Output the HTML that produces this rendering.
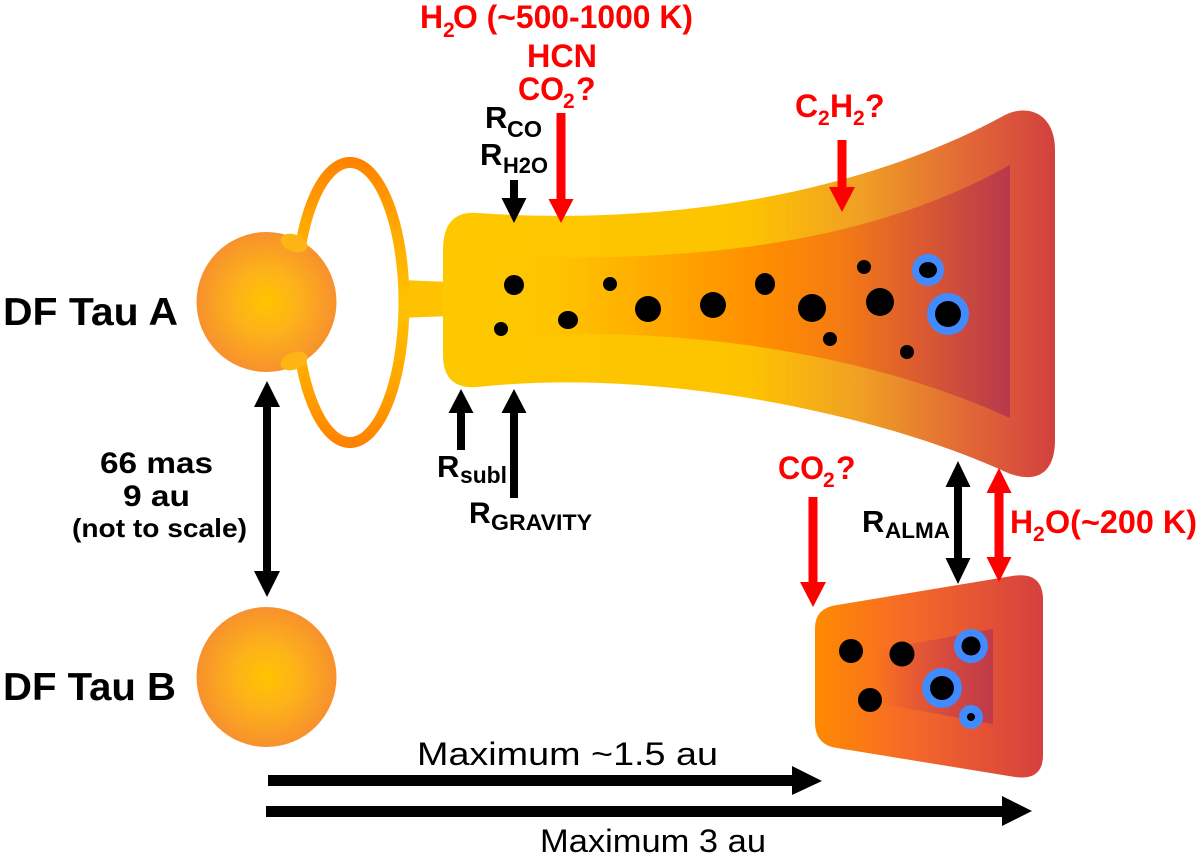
<!DOCTYPE html>
<html><head><meta charset="utf-8"><style>
html,body{margin:0;padding:0;background:#fff;}
svg{display:block;}
text{font-family:"Liberation Sans",Arial,sans-serif;}
.b{font-weight:bold;}
.r{fill:#ff0000;}
</style></head><body>
<svg width="1200" height="858" viewBox="0 0 1200 858" xmlns="http://www.w3.org/2000/svg">
<defs>
<radialGradient id="star" cx="0.5" cy="0.5" r="0.5">
<stop offset="0" stop-color="#FFC400"/>
<stop offset="0.45" stop-color="#FDB21A"/>
<stop offset="1" stop-color="#F7912D"/>
</radialGradient>
<linearGradient id="ring" gradientUnits="userSpaceOnUse" x1="0" y1="157" x2="0" y2="448">
<stop offset="0" stop-color="#FF8000"/>
<stop offset="0.25" stop-color="#FFAA00"/>
<stop offset="0.5" stop-color="#FFC200"/>
<stop offset="0.75" stop-color="#FFAA00"/>
<stop offset="1" stop-color="#FF8000"/>
</linearGradient>
<linearGradient id="outer" gradientUnits="userSpaceOnUse" x1="443" y1="0" x2="1055" y2="0">
<stop offset="0" stop-color="#FDC800"/>
<stop offset="0.5" stop-color="#FDC300"/>
<stop offset="0.68" stop-color="#F0A024"/>
<stop offset="0.85" stop-color="#E26A36"/>
<stop offset="1" stop-color="#D3403F"/>
</linearGradient>
<linearGradient id="inner" gradientUnits="userSpaceOnUse" x1="490" y1="0" x2="1010" y2="0">
<stop offset="0" stop-color="#FDC800"/>
<stop offset="0.13" stop-color="#FFC300"/>
<stop offset="0.33" stop-color="#FFA800"/>
<stop offset="0.52" stop-color="#FF8E00"/>
<stop offset="0.67" stop-color="#F57C12"/>
<stop offset="0.83" stop-color="#DA5A32"/>
<stop offset="1" stop-color="#B8384C"/>
</linearGradient>
<linearGradient id="small" gradientUnits="userSpaceOnUse" x1="815" y1="0" x2="1043" y2="0">
<stop offset="0" stop-color="#FF8A00"/>
<stop offset="0.4" stop-color="#F66A28"/>
<stop offset="1" stop-color="#D5403F"/>
</linearGradient>
<linearGradient id="smallin" gradientUnits="userSpaceOnUse" x1="877" y1="0" x2="993" y2="0">
<stop offset="0" stop-color="#C8384C" stop-opacity="0"/>
<stop offset="1" stop-color="#B8384C" stop-opacity="0.85"/>
</linearGradient>
</defs>

<rect width="1200" height="858" fill="#fff"/>

<!-- connector bar -->
<polygon points="400,280 450,282 450,316 400,318" fill="#FFC200"/>
<!-- ring -->
<ellipse cx="350" cy="302.5" rx="54" ry="140" fill="none" stroke="url(#ring)" stroke-width="11"/>

<!-- Star A -->
<circle cx="266.5" cy="302" r="70" fill="url(#star)"/>
<ellipse cx="294" cy="243" rx="14" ry="8.5" fill="#FDB515" transform="rotate(20 294 243)"/>
<ellipse cx="294" cy="361" rx="14" ry="8.5" fill="#FDB515" transform="rotate(-20 294 361)"/>
<!-- Star B -->
<circle cx="266.5" cy="677" r="70" fill="url(#star)"/>

<!-- Main disk -->
<path d="M 478,213 C 650,225 850,200 1005,115 C 1030,103 1055,115 1055,150 L 1055,440 C 1055,470 1040,485 1008,473 C 870,410 650,368 478,387 Q 443,390 443,355 L 443,250 Q 443,210 478,213 Z" fill="url(#outer)"/>
<path d="M 490,256 C 650,262 850,255 1010,165 L 1010,418 C 850,345 650,325 490,337 Z" fill="url(#inner)"/>

<!-- dots main disk -->
<g fill="#000">
<circle cx="514" cy="285" r="10"/>
<circle cx="501" cy="329" r="7"/>
<ellipse cx="568" cy="320" rx="10" ry="9"/>
<circle cx="610" cy="284" r="7"/>
<circle cx="648" cy="309" r="13"/>
<circle cx="713" cy="305" r="13"/>
<ellipse cx="765" cy="284" rx="10" ry="11"/>
<circle cx="812" cy="308" r="14"/>
<circle cx="830" cy="339" r="7"/>
<circle cx="864" cy="267" r="7"/>
<circle cx="880" cy="302" r="14"/>
<circle cx="907" cy="352" r="7"/>
</g>
<circle cx="928" cy="270" r="16" fill="#428BFF"/>
<ellipse cx="928" cy="270" rx="9" ry="8" fill="#000"/>
<circle cx="948" cy="314" r="21" fill="#428BFF"/>
<circle cx="948" cy="314" r="13" fill="#000"/>

<!-- Small disk -->
<path d="M 837,605 L 1012,576 Q 1043,571 1043,600 L 1043,755 Q 1043,781 1015,777 L 837,748 Q 815,745 815,722 L 815,628 Q 815,608 837,605 Z" fill="url(#small)"/>
<polygon points="877,650 993,629 993,724 877,703" fill="url(#smallin)"/>
<g fill="#000">
<circle cx="851" cy="651" r="12"/>
<circle cx="902" cy="654" r="12.5"/>
<circle cx="870" cy="700" r="12"/>
</g>
<circle cx="971" cy="646" r="17" fill="#428BFF"/>
<circle cx="971" cy="646" r="9.5" fill="#000"/>
<circle cx="942" cy="688" r="20" fill="#428BFF"/>
<circle cx="942" cy="688" r="12" fill="#000"/>
<circle cx="971" cy="717" r="12" fill="#428BFF"/>
<circle cx="971" cy="717" r="4" fill="#000"/>

<!-- Arrows black -->
<g fill="#000">
<polygon points="267,381 280,407 271,407 271,571 280,571 267,597 254,571 263,571 263,407 254,407"/>
<polygon points="510,180 518,180 518,198 526.5,198 514,223 501.5,198 510,198"/>
<polygon points="461,389 473.5,413 465,413 465,450 457,450 457,413 448.5,413"/>
<polygon points="514,389 526.5,413 518,413 518,498 510,498 510,413 501.5,413"/>
<polygon points="958,461 970.5,487 962,487 962,558 970.5,558 958,584 945.5,558 954,558 954,487 945.5,487"/>
<polygon points="268,775 792,775 792,766 822,781 792,795 792,786 268,786"/>
<polygon points="266,806 1002,806 1002,796 1032,811 1002,826 1002,817 266,817"/>
</g>
<!-- Arrows red -->
<g fill="#FF0000">
<polygon points="556.5,113 565.5,113 565.5,199 573.5,199 561,223 548.5,199 556.5,199"/>
<polygon points="837.5,140 846.5,140 846.5,187 855,187 842,212 829,187 837.5,187"/>
<polygon points="808.5,497 817.5,497 817.5,582 826,582 813,607 800,582 808.5,582"/>
<polygon points="999,468 1011.5,493 1003.5,493 1003.5,557 1011.5,557 999,582 986.5,557 994.5,557 994.5,493 986.5,493"/>
</g>

<!-- Labels black -->
<text class="b" x="3" y="325" font-size="39" textLength="175" lengthAdjust="spacingAndGlyphs">DF Tau A</text>
<text class="b" x="3" y="700" font-size="39" textLength="173" lengthAdjust="spacingAndGlyphs">DF Tau B</text>
<text class="b" x="100" y="473" font-size="30" textLength="113" lengthAdjust="spacingAndGlyphs">66 mas</text>
<text class="b" x="123" y="506" font-size="30" textLength="67" lengthAdjust="spacingAndGlyphs">9 au</text>
<text class="b" x="72" y="537" font-size="26" textLength="175" lengthAdjust="spacingAndGlyphs">(not to scale)</text>

<text class="b" x="485" y="128" font-size="31">R</text>
<text class="b" x="507" y="137" font-size="23" textLength="35" lengthAdjust="spacingAndGlyphs">CO</text>
<text class="b" x="480" y="165" font-size="31">R</text>
<text class="b" x="503" y="173" font-size="22" textLength="45" lengthAdjust="spacingAndGlyphs">H2O</text>

<text class="b" x="437" y="477" font-size="31">R</text>
<text class="b" x="460" y="483" font-size="23" textLength="47" lengthAdjust="spacingAndGlyphs">subl</text>
<text class="b" x="469" y="523" font-size="30">R</text>
<text class="b" x="491" y="530" font-size="22" textLength="101" lengthAdjust="spacingAndGlyphs">GRAVITY</text>

<text class="b" x="862" y="532" font-size="31">R</text>
<text class="b" x="885" y="538" font-size="22" textLength="65" lengthAdjust="spacingAndGlyphs">ALMA</text>

<text x="417" y="765" font-size="32" textLength="301" lengthAdjust="spacingAndGlyphs">Maximum ~1.5 au</text>
<text x="540" y="852" font-size="32" textLength="226" lengthAdjust="spacingAndGlyphs">Maximum 3 au</text>

<!-- Labels red -->
<g class="r">
<text class="b" x="420" y="28" font-size="32">H</text>
<text class="b" x="443" y="37" font-size="21">2</text>
<text class="b" x="453" y="28" font-size="32" textLength="240" lengthAdjust="spacingAndGlyphs">O (~500-1000  K)</text>
<text class="b" x="527" y="67" font-size="32" textLength="70" lengthAdjust="spacingAndGlyphs">HCN</text>
<text class="b" x="518" y="100" font-size="32" textLength="46" lengthAdjust="spacingAndGlyphs">CO</text>
<text class="b" x="563" y="108" font-size="21">2</text>
<text class="b" x="576" y="100" font-size="32">?</text>

<text class="b" x="795" y="117" font-size="32">C</text>
<text class="b" x="818" y="125" font-size="21">2</text>
<text class="b" x="830" y="117" font-size="32">H</text>
<text class="b" x="853" y="125" font-size="21">2</text>
<text class="b" x="865" y="117" font-size="32">?</text>

<text class="b" x="778" y="479" font-size="32" textLength="46" lengthAdjust="spacingAndGlyphs">CO</text>
<text class="b" x="823" y="487" font-size="21">2</text>
<text class="b" x="836" y="479" font-size="32">?</text>

<text class="b" x="1010" y="533" font-size="32">H</text>
<text class="b" x="1033" y="541" font-size="21">2</text>
<text class="b" x="1045" y="533" font-size="32" textLength="152" lengthAdjust="spacingAndGlyphs">O(~200 K)</text>
</g>
</svg>
</body></html>
